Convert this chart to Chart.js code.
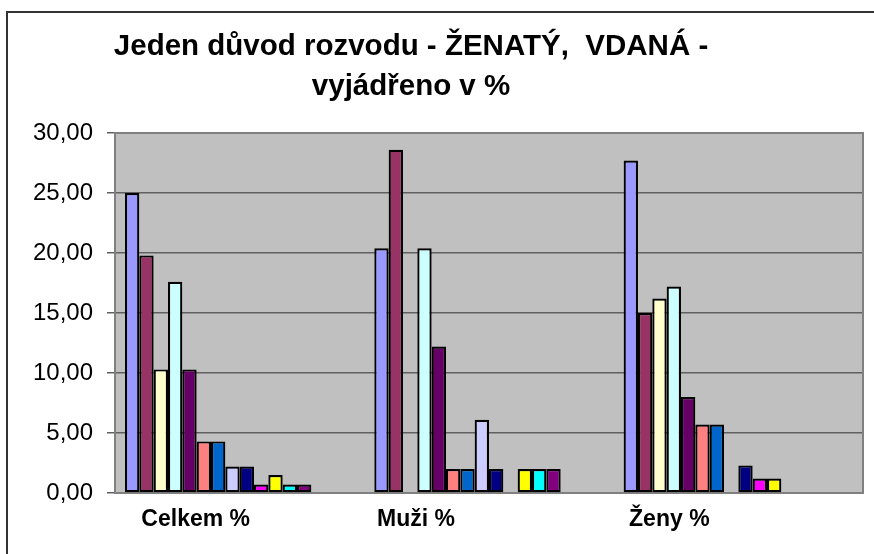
<!DOCTYPE html>
<html>
<head>
<meta charset="utf-8">
<script src="https://cdn.jsdelivr.net/npm/chart.js@4"></script>
<style>
  html, body { margin: 0; padding: 0; background: #fff; }
  #wrap { width: 874px; height: 554px; }
</style>
</head>
<body>
<div id="wrap"><canvas id="chart" width="874" height="554"></canvas></div>
<script>
// categories and values (percent)
const categories = ['Celkem %', 'Muži %', 'Ženy %'];
const titleLines = ['Jeden důvod rozvodu - ŽENATÝ,  VDANÁ -', 'vyjádřeno v %'];
const yTicks = [0, 5, 10, 15, 20, 25, 30];

const s1 = [25.0, 20.4, 27.7];
const s2 = [19.8, 28.6, 15.0];
const s3 = [10.3, 0, 16.2];
const s4 = [17.6, 20.4, 17.2];
const s5 = [10.3, 12.2, 8.0];
const s6 = [4.3, 2.0, 5.7];
const s7 = [4.3, 2.0, 5.7];
const s8 = [2.2, 6.1, 0];
const s9 = [2.2, 2.0, 2.3];
const s10 = [0.7, 0, 1.2];
const s11 = [1.5, 2.0, 1.2];
const s12 = [0.7, 2.0, 0];
const s13 = [0.7, 2.0, 0];
const s14 = [0, 0, 0];
const s15 = [0, 0, 0];
const s16 = [0, 0, 0];

const series = [s1, s2, s3, s4, s5, s6, s7, s8, s9, s10, s11, s12, s13, s14, s15, s16];

// old Excel default series palette
const colors = ['#9999FF', '#993366', '#FFFFCC', '#CCFFFF', '#660066', '#FF8080', '#0066CC', '#CCCCFF',
  '#000080', '#FF00FF', '#FFFF00', '#00FFFF', '#800080', '#800000', '#008080', '#0000FF'];

// category labels sit left of the group centre in the original
const labelShift = [-44, -73, -69];

const FONT = "'Liberation Sans', Arial, sans-serif";

const excelLook = {
  id: 'excelLook',
  beforeDraw(chart) {
    const { ctx, chartArea: a } = chart;
    ctx.save();
    // outer chart frame (only top and left visible)
    ctx.strokeStyle = '#333';
    ctx.lineWidth = 2;
    ctx.beginPath();
    ctx.moveTo(7, chart.height);
    ctx.lineTo(7, 12);
    ctx.lineTo(chart.width, 12);
    ctx.stroke();
    // plot area
    ctx.fillStyle = '#C0C0C0';
    ctx.fillRect(a.left, a.top, a.right - a.left, a.bottom - a.top);
    ctx.restore();
  },
  beforeDatasetsDraw(chart) {
    const { ctx, chartArea: a } = chart;
    ctx.save();
    ctx.strokeStyle = '#808080';
    ctx.lineWidth = 2;
    ctx.strokeRect(a.left, a.top, a.right - a.left, a.bottom - a.top);
    ctx.restore();
  },
  afterDraw(chart) {
    const { ctx } = chart;
    const x = chart.scales.x;
    ctx.save();
    ctx.fillStyle = '#000';
    ctx.font = 'bold 23px ' + FONT;
    ctx.textAlign = 'center';
    ctx.textBaseline = 'middle';
    categories.forEach((c, i) => {
      ctx.fillText(c, x.getPixelForTick(i) + labelShift[i], x.top + 27);
    });
    ctx.restore();
  }
};

new Chart(document.getElementById('chart'), {
  type: 'bar',
  data: {
    labels: categories,
    datasets: series.map((d, i) => ({
      label: 'Důvod ' + (i + 1),
      data: d,
      backgroundColor: colors[i],
      borderColor: '#000',
      borderWidth: 2.2,
      borderSkipped: false,
      categoryPercentage: 0.92,
      barPercentage: 1.0
    }))
  },
  options: {
    responsive: false,
    animation: false,
    layout: { padding: { left: 0, right: 11, top: 0, bottom: 0 } },
    plugins: {
      legend: { display: false },
      tooltip: { enabled: false },
      title: {
        display: true,
        text: titleLines.map(t => t + '     '),
        color: '#000',
        font: { family: FONT, size: 29.5, weight: 'bold', lineHeight: 40 / 29.5 },
        padding: { top: 27, bottom: 26 }
      }
    },
    scales: {
      x: {
        grid: { display: false },
        border: { display: true, color: '#808080', width: 2 },
        ticks: { display: false },
        afterFit(scale) { scale.height = 61; }
      },
      y: {
        min: 0,
        max: 30,
        afterBuildTicks(scale) { scale.ticks = yTicks.map(v => ({ value: v })); },
        afterFit(scale) { scale.width = 115; },
        grid: { color: '#606060', lineWidth: 1.5, tickLength: 8, drawTicks: true },
        border: { display: true, color: '#111', width: 1.5 },
        ticks: {
          padding: 14,
          color: '#000',
          font: { family: FONT, size: 24 },
          callback: v => v.toFixed(2).replace('.', ',')
        }
      }
    }
  },
  plugins: [excelLook]
});
</script>
</body>
</html>
